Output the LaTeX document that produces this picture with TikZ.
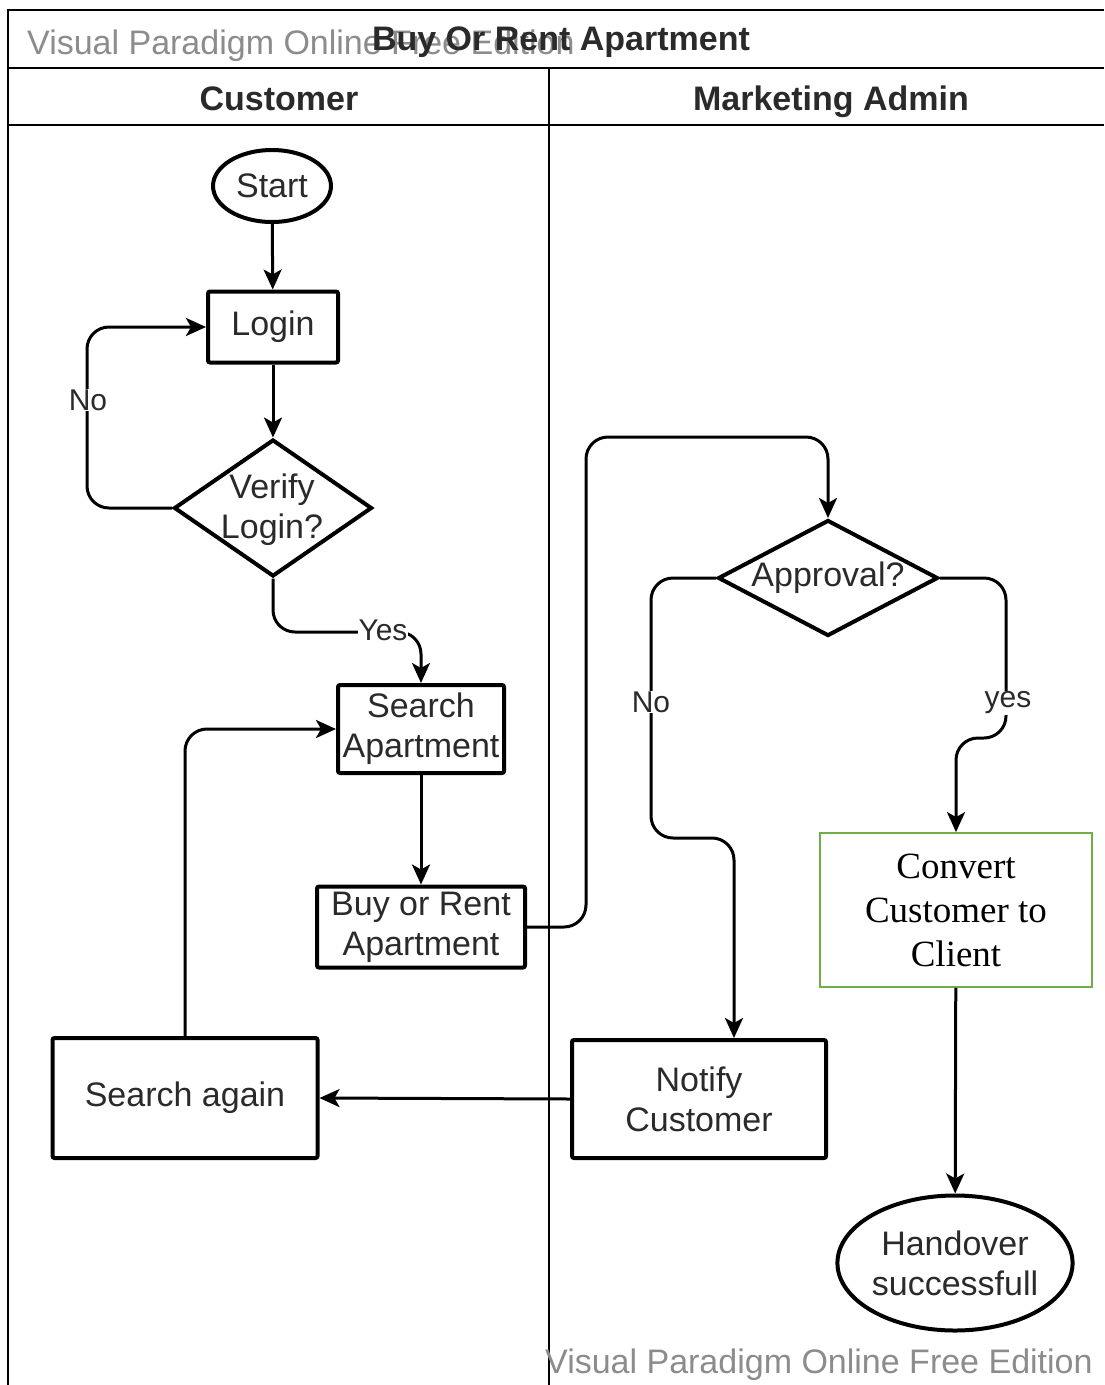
\documentclass[tikz,border=0pt]{standalone}
\usepackage{fontspec}
\setmainfont{Liberation Sans}
\newfontfamily\serifface{Liberation Serif}
\usetikzlibrary{arrows.meta,shapes.geometric}
\definecolor{txt}{HTML}{2A2A2A}
\definecolor{wmgray}{HTML}{8C8C8C}
\definecolor{boxgreen}{HTML}{70AD47}
\tikzset{
  frame/.style={line width=2pt, draw=black},
  box/.style={draw, line width=4pt, rectangle, rounded corners=2pt, inner sep=0pt,
    align=center, text=txt, font=\fontsize{34}{40}\selectfont},
  oval/.style={draw, line width=4pt, ellipse, inner sep=0pt, align=center,
    text=txt, font=\fontsize{34}{40}\selectfont},
  decision/.style={draw, line width=4pt, diamond, inner sep=0pt},
  dtext/.style={align=center, text=txt, font=\fontsize{34}{40}\selectfont, inner sep=0pt},
  conn/.style={line width=3pt, draw=black, rounded corners=22pt,
    -{Stealth[length=20pt,width=18pt,inset=5pt]}},
  lbl/.style={fill=white, text=txt, font=\fontsize{30}{34}\selectfont, inner sep=1pt},
  wm/.style={text=wmgray, font=\fontsize{34}{40}\selectfont, inner sep=0pt},
  head/.style={text=txt, font=\bfseries\fontsize{34}{40}\selectfont, inner sep=0pt}
}
\begin{document}
\begin{tikzpicture}[x=1pt,y=-1pt]
\useasboundingbox[fill=white] (0,0) rectangle (1104,1385);

% swimlane frame
\draw[frame] (8,1385) -- (8,10) -- (1104,10);
\draw[frame] (8,68) -- (1104,68);
\draw[frame] (8,125) -- (1104,125);
\draw[frame] (549,68) -- (549,1385);

% title row
\node[wm, anchor=base west] (wmtop) at (27,54) {Visual Paradigm Online Free Edition};
\node[head, anchor=base] (title) at (561,50) {Buy Or Rent Apartment};
\node[head, anchor=base] (laneA) at (279,110) {Customer};
\node[head, anchor=base] (laneB) at (831,110) {Marketing Admin};

% nodes
\node[oval, minimum width=118pt, minimum height=72pt] (start) at (272,186) {Start};
\node[box, minimum width=130pt, minimum height=71pt] (login) at (273,327) {Login};
\node[decision, minimum width=198pt, minimum height=137pt] (verify) at (273,508) {};
\node[dtext] (verifyt) at (272,510) {Verify\\Login?};
\node[box, minimum width=166pt, minimum height=88pt] (search) at (421,729) {Search\\Apartment};
\node[box, minimum width=208pt, minimum height=81pt] (buy) at (421,927) {Buy or Rent\\Apartment};
\node[decision, minimum width=220pt, minimum height=116pt] (appr) at (828,578) {};
\node[dtext] (apprt) at (828,578) {Approval?};
\node[draw=boxgreen, line width=1.8pt, minimum width=272pt, minimum height=154pt,
      inner sep=0pt, align=center, font=\serifface\fontsize{37}{44}\selectfont] (conv) at (956,910)
      {Convert\\Customer to\\Client};
\node[box, minimum width=254pt, minimum height=118pt] (notify) at (699,1099) {Notify\\Customer};
\node[box, minimum width=265pt, minimum height=120pt] (again) at (185,1098) {Search again};
\node[oval, minimum width=227pt, minimum height=135pt] (hand) at (955,1263) {Handover\\successfull};

% bottom watermark
\node[wm, anchor=base west] (wmbot) at (545,1373) {Visual Paradigm Online Free Edition};

% connectors
\draw[conn] (start) -- (login);
\draw[conn] (login) -- (verify);
\draw[conn] (verify.west) -- (87,508) -- (87,327) -- (login.west);
\node[lbl] (lno) at (88,400) {No};
\draw[conn] (verify.south) -- (273,632) -- (421,632) -- (search.north);
\node[lbl] (lyes) at (383,630) {Yes};
\draw[conn] (search) -- (buy);
\draw[conn] (buy.east) -- (586,927) -- (586,437) -- (828,437) -- (appr.north);
\draw[conn] (appr.west) -- (651,578) -- (651,838) -- (734,838) -- ([xshift=35pt]notify.north);
\node[lbl] (lno2) at (651,702) {No};
\draw[conn] (appr.east) -- (1006,578) -- (1006,738) -- (956,738) -- (conv.north);
\node[lbl] (lyes2) at (1008,703) {yes};
\draw[conn] (conv) -- (hand);
\draw[conn] (notify.west) -- (again.east);
\draw[conn] (again.north) -- (185,729) -- (search.west);
\end{tikzpicture}
\end{document}
